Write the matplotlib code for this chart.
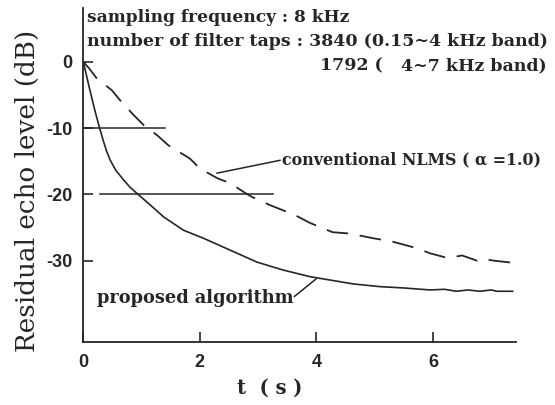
import matplotlib
matplotlib.use('Agg')
import matplotlib.pyplot as plt

# ---------------- data ----------------
t_proposed = [0.0, 0.1, 0.2, 0.28, 0.34, 0.4, 0.46, 0.56, 0.69, 0.8, 0.94, 1.15, 1.38, 1.72, 2.06, 2.52,
              2.98, 3.43, 3.89, 4.23, 4.64, 5.09, 5.5, 5.95, 6.2, 6.4, 6.6, 6.8, 7.0, 7.1, 7.37]
db_proposed = [0.0, -3.8, -7.4, -10.0, -11.8, -13.5, -14.8, -16.4, -17.8, -18.9, -20.0, -21.6, -23.4, -25.4,
               -26.6, -28.4, -30.2, -31.4, -32.4, -32.9, -33.5, -33.9, -34.1, -34.4, -34.3, -34.6, -34.4,
               -34.6, -34.4, -34.6, -34.6]

t_conventional = [0.0, 0.1, 0.23, 0.49, 0.63, 0.86, 1.03, 1.27, 1.46, 1.83, 2.0, 2.31, 2.52, 2.8,
                  2.9, 3.2, 3.63, 3.89, 4.28, 4.58, 4.97, 5.3, 5.72, 5.96, 6.26, 6.5, 6.76, 6.84, 7.06, 7.37]
db_conventional = [0.0, -1.0, -2.5, -4.3, -5.8, -8.0, -9.5, -11.1, -12.6, -14.6, -16.1, -17.6, -18.3, -19.9,
                   -20.4, -21.6, -23.1, -24.3, -25.7, -25.9, -26.6, -27.1, -28.1, -28.9, -29.6, -29.2, -30.0,
                   -29.7, -30.0, -30.3]

ref_levels = [-10, -20]
ref_t_start = [0.0, 0.29]
ref_t_end = [1.40, 3.25]

x_ticks = [0, 2, 4, 6]
x_tick_labels = ['0', '2', '4', '6']
y_ticks = [0, -10, -20, -30]
y_tick_labels = ['0', '-10', '-20', '-30']

label_conv = 'conventional NLMS ( α =1.0)'
label_prop = 'proposed algorithm'
info_line1 = 'sampling frequency : 8 kHz'
info_line2 = 'number of filter taps : 3840 (0.15~4 kHz band)'
info_line3a = '1792 ('
info_line3b = '4~7 kHz band)'
x_label = 't  ( s )'
y_label = 'Residual echo level (dB)'

# ---------------- layout ----------------
W, H = 555, 405
INK = '#262626'
SERIF = ['DejaVu Serif']
TICKFONT = ['Liberation Sans Narrow', 'Liberation Sans', 'DejaVu Sans']

fig = plt.figure(figsize=(W / 100, H / 100), dpi=100)
fig.patch.set_facecolor('white')
ax = fig.add_axes([83.3 / W, 1 - 341.7 / H, (515.7 - 83.3) / W, (341.7 - 8) / H])
ax.set_xlim(0, 7.42)
ax.set_ylim(-42.2, 8.1)
ax.set_facecolor('none')

for s in ['top', 'right']:
    ax.spines[s].set_visible(False)
for s in ['left', 'bottom']:
    ax.spines[s].set_color(INK)
    ax.spines[s].set_linewidth(1.3)

ax.set_xticks(x_ticks)
ax.set_xticklabels(x_tick_labels)
ax.set_yticks(y_ticks)
ax.set_yticklabels(y_tick_labels)
ax.tick_params(axis='both', direction='in', length=7, width=1.2, color=INK, labelcolor=INK)
ax.tick_params(axis='x', pad=9)
ax.tick_params(axis='y', pad=8)
for lab in ax.get_xticklabels() + ax.get_yticklabels():
    lab.set_family(TICKFONT)
    lab.set_fontweight('bold')
    lab.set_fontsize(13)

# curves
ax.plot(t_proposed, db_proposed, color=INK, lw=1.2, solid_capstyle='round', solid_joinstyle='round')
ax.plot(t_conventional, db_conventional, color=INK, lw=1.3, dashes=(12, 6.5))

# reference lines
for lvl, a, b in zip(ref_levels, ref_t_start, ref_t_end):
    ax.plot([a, b], [lvl, lvl], color=INK, lw=1.1)

# annotation leaders
ax.annotate('', xy=(2.29, -16.8), xytext=(3.38, -14.85),
            arrowprops=dict(arrowstyle='-', color=INK, lw=1.1, shrinkA=0, shrinkB=0),
            annotation_clip=False)
ax.annotate('', xy=(4.0, -32.7), xytext=(3.62, -35.4),
            arrowprops=dict(arrowstyle='-', color=INK, lw=1.1, shrinkA=0, shrinkB=0),
            annotation_clip=False)

renderer = fig.canvas.get_renderer()


def ftext(xp, yp, s, target, ha='left', va='center', rotation=0, family=SERIF, weight='normal', size=None):
    t = fig.text(xp / W, 1 - yp / H, s, ha=ha, va=va, rotation=rotation, color=INK,
                 family=family, fontweight=weight, fontsize=size or 10)
    if target is not None:
        bb = t.get_window_extent(renderer)
        w = bb.height if rotation else bb.width
        t.set_fontsize(10 * target / w)
    return t


t1 = ftext(86.7, 18, info_line1, 263, weight='bold')
t2 = ftext(86.7, 42, info_line2, 460, weight='bold')
fs = t2.get_fontsize()
ftext(320, 66, info_line3a, None, weight='bold', size=fs)
ftext(547, 66, info_line3b, None, ha='right', weight='bold', size=fs)
ftext(282, 160, label_conv, 261, weight='bold')
ftext(97, 298, label_prop, 196, weight='bold')
ftext(270, 388, x_label, 66, ha='center', weight='bold')
ftext(27, 191, y_label, 323, ha='center', rotation=90)

fig.savefig('out.png', dpi=100, facecolor='white')
